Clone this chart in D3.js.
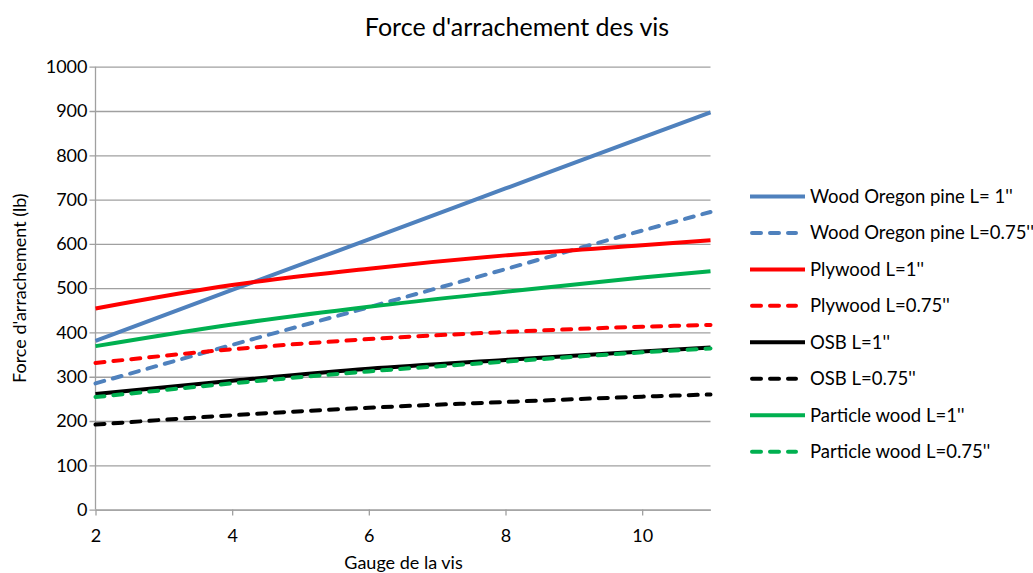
<!DOCTYPE html>
<html>
<head>
<meta charset="utf-8">
<script src="https://cdn.jsdelivr.net/npm/d3@7"></script>
<style>
  html, body { margin: 0; padding: 0; background: #fff; }
  svg { display: block; font-family: Lato, "Noto Sans", sans-serif; }
</style>
</head>
<body>
<svg id="chart" width="1033" height="573"></svg>
<script>
// Screw gauge (x) and withdrawal force in lb (y) for each material / length
const gauges = [2, 4, 6, 8, 10, 11];
const woodOregon1   = [381, 496, 610, 725, 840, 897];
const woodOregon075 = [285, 372, 457, 543, 630, 672];
const plywood1      = [454, 507, 544, 574, 597, 608];
const plywood075    = [331, 362, 385, 401, 413, 417];
const osb1          = [261, 291, 318, 338, 357, 366];
const osb075        = [192, 213, 230, 243, 255, 260];
const particle1     = [369, 418, 458, 492, 524, 538];
const particle075   = [254, 285, 312, 334, 355, 364];

const seriesNames = [
  "Wood Oregon pine L= 1''",
  "Wood Oregon pine L=0.75''",
  "Plywood L=1''",
  "Plywood L=0.75''",
  "OSB L=1''",
  "OSB L=0.75''",
  "Particle wood L=1''",
  "Particle wood L=0.75''"
];
const seriesValues = [woodOregon1, woodOregon075, plywood1, plywood075,
                      osb1, osb075, particle1, particle075];
const seriesColors = ["#4F81BD", "#4F81BD", "#FF0000", "#FF0000",
                      "#000000", "#000000", "#00B050", "#00B050"];
const seriesDashed = [false, true, false, true, false, true, false, true];

const xTicks = [2, 4, 6, 8, 10];
const yTicks = [0, 100, 200, 300, 400, 500, 600, 700, 800, 900, 1000];

const titleText = "Force d'arrachement des vis";
const xTitle = "Gauge de la vis";
const yTitle = "Force d'arrachement (lb)";

const svg = d3.select("#chart");
const plot = { left: 95.5, right: 710.5, top: 66.7, bottom: 509.6 };

const x = d3.scaleLinear().domain([2, 11]).range([plot.left, plot.right]);
const y = d3.scaleLinear().domain([0, 1000]).range([plot.bottom, plot.top]);

const gridColor = "#A0A0A0";
const fmt = d3.format("d");

// Horizontal gridlines + y axis labels
const yAxis = d3.axisLeft(y).tickValues(yTicks).tickFormat(fmt)
  .tickSize(-(plot.right - plot.left)).tickSizeOuter(0).tickPadding(8);
const gy = svg.append("g").attr("transform", `translate(${plot.left},0)`).call(yAxis);
gy.select(".domain").remove();
gy.selectAll(".tick line").attr("stroke", gridColor).attr("stroke-width", 1.3)
  .attr("x1", -6);
gy.selectAll(".tick text").attr("font-size", 18).attr("fill", "#000")
  .attr("font-family", "Lato, 'Noto Sans', sans-serif").attr("x", -8);

// Vertical gridlines + x axis labels
const xAxis = d3.axisBottom(x).tickValues(xTicks).tickFormat(fmt)
  .tickSize(-(plot.bottom - plot.top)).tickSizeOuter(0).tickPadding(20);
const gx = svg.append("g").attr("transform", `translate(0,${plot.bottom})`).call(xAxis);
gx.select(".domain").attr("stroke", gridColor).attr("stroke-width", 1.3);
gx.selectAll(".tick line").attr("stroke", gridColor).attr("stroke-width", 1.3)
  .attr("y2", 6);
gx.selectAll(".tick text").attr("font-size", 18).attr("fill", "#000")
  .attr("font-family", "Lato, 'Noto Sans', sans-serif");

// Left axis line
svg.append("line")
  .attr("x1", plot.left).attr("x2", plot.left)
  .attr("y1", plot.top).attr("y2", plot.bottom)
  .attr("stroke", gridColor).attr("stroke-width", 1.3);

// Series lines
const line = d3.line()
  .x((d, i) => x(gauges[i]))
  .y(d => y(d))
  .curve(d3.curveMonotoneX);

seriesValues.forEach((vals, k) => {
  svg.append("path")
    .datum(vals)
    .attr("d", line)
    .attr("fill", "none")
    .attr("stroke", seriesColors[k])
    .attr("stroke-width", 4)
    .attr("stroke-linecap", seriesDashed[k] ? "round" : "butt")
    .attr("stroke-dasharray", seriesDashed[k] ? "9,9" : null);
});

// Title
svg.append("text")
  .attr("x", 517).attr("y", 36)
  .attr("text-anchor", "middle")
  .attr("font-size", 25)
  .attr("fill", "#000")
  .text(titleText);

// Axis titles
svg.append("text")
  .attr("x", (plot.left + plot.right) / 2 + 0.5).attr("y", 569)
  .attr("text-anchor", "middle")
  .attr("font-size", 18)
  .attr("fill", "#000")
  .text(xTitle);

svg.append("text")
  .attr("transform", `translate(26,${(plot.top + plot.bottom) / 2}) rotate(-90)`)
  .attr("text-anchor", "middle")
  .attr("font-size", 18)
  .attr("fill", "#000")
  .text(yTitle);

// Legend
const legend = svg.append("g");
const legendTop = 196.5, legendStep = 36.45;
seriesNames.forEach((name, k) => {
  const cy = legendTop + k * legendStep;
  legend.append("line")
    .attr("x1", seriesDashed[k] ? 752 : 750).attr("x2", seriesDashed[k] ? 796 : 805)
    .attr("y1", cy).attr("y2", cy)
    .attr("stroke", seriesColors[k])
    .attr("stroke-width", 4)
    .attr("stroke-linecap", seriesDashed[k] ? "round" : "butt")
    .attr("stroke-dasharray", seriesDashed[k] ? "9,9" : null);
  legend.append("text")
    .attr("x", 810).attr("y", cy + 6.5)
    .attr("font-size", 18.5)
    .attr("fill", "#000")
    .text(name);
});
</script>
</body>
</html>
